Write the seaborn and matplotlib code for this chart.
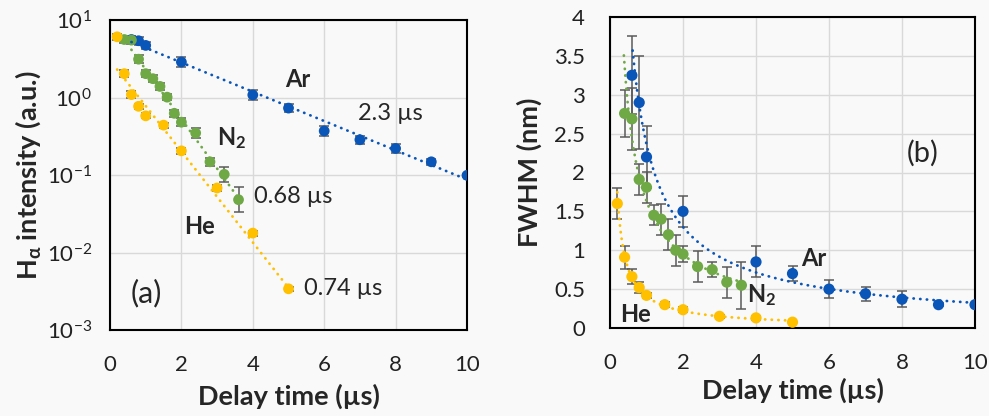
import numpy as np
import pandas as pd
import matplotlib
matplotlib.use("Agg")
import matplotlib.pyplot as plt
import seaborn as sns
from matplotlib.ticker import LogLocator, LogFormatterSciNotation, FuncFormatter, MultipleLocator, NullLocator

# ---- delay times (µs) ----
ar_t = [0.6, 0.8, 1.0, 2.0, 4.0, 5.0, 6.0, 7.0, 8.0, 9.0, 10.0]
n2_t = [0.4, 0.6, 0.8, 1.0, 1.2, 1.4, 1.6, 1.8, 2.0, 2.4, 2.8, 3.2, 3.6]
he_t = [0.2, 0.4, 0.6, 0.8, 1.0, 1.5, 2.0, 3.0, 4.0, 5.0]

# ---- H-alpha intensity (a.u.) and relative uncertainty ----
ar_int = [5.6, 5.4, 4.7, 2.87, 1.08, 0.73, 0.37, 0.285, 0.22, 0.148, 0.099]
n2_int = [5.6, 5.5, 3.12, 2.03, 1.75, 1.39, 1.01, 0.625, 0.48, 0.348, 0.148, 0.102, 0.048]
he_int = [6.07, 2.03, 1.09, 0.77, 0.58, 0.44, 0.205, 0.068, 0.0178, 0.0034]
ar_int_rel = [0.12, 0.12, 0.12, 0.15, 0.15, 0.12, 0.15, 0.12, 0.15, 0.10, 0.05]
n2_int_rel = [0.12, 0.12, 0.12, 0.10, 0.10, 0.10, 0.10, 0.12, 0.12, 0.15, 0.12, 0.25, 0.45]
he_int_rel = [0.10, 0.12, 0.10, 0.08, 0.08, 0.08, 0.10, 0.08, 0.08, 0.06]

# ---- line width FWHM (nm) and absolute uncertainty ----
ar_w = [3.25, 2.9, 2.2, 1.5, 0.85, 0.70, 0.50, 0.44, 0.37, 0.30, 0.30]
n2_w = [2.76, 2.69, 1.91, 1.81, 1.45, 1.40, 1.20, 1.00, 0.95, 0.79, 0.75, 0.59, 0.55]
he_w = [1.6, 0.91, 0.66, 0.52, 0.42, 0.30, 0.235, 0.15, 0.13, 0.075]
ar_w_err = [0.5, 0.6, 0.4, 0.2, 0.2, 0.1, 0.12, 0.09, 0.1, 0.02, 0.02]
n2_w_err = [0.3, 0.4, 0.2, 0.2, 0.13, 0.2, 0.2, 0.2, 0.1, 0.2, 0.1, 0.2, 0.3]
he_w_err = [0.2, 0.15, 0.1, 0.07, 0.03, 0.03, 0.03, 0.02, 0.03, 0.0]

# ---- exponential decay times (µs) ----
tau_ar, tau_n2, tau_he = 2.3, 0.68, 0.74

gases = ["Ar", "N2", "He"]
colors = {"Ar": "#0A55B8", "N2": "#6FA946", "He": "#FFC000"}

frames = []
for g, t, i, ir, w, we in [("Ar", ar_t, ar_int, ar_int_rel, ar_w, ar_w_err),
                           ("N2", n2_t, n2_int, n2_int_rel, n2_w, n2_w_err),
                           ("He", he_t, he_int, he_int_rel, he_w, he_w_err)]:
    frames.append(pd.DataFrame({"gas": g, "t": t, "intensity": i, "rel": ir,
                                "fwhm": w, "fwhm_err": we}))
df = pd.concat(frames, ignore_index=True)

sns.set_theme(style="white")
plt.rcParams["font.family"] = ["Lato", "DejaVu Sans"]
plt.rcParams["mathtext.fontset"] = "custom"
plt.rcParams["mathtext.rm"] = "Lato"
plt.rcParams["mathtext.bf"] = "Lato:bold"
plt.rcParams["mathtext.it"] = "Lato:italic"
plt.rcParams["mathtext.sf"] = "Lato"
plt.rcParams["axes.unicode_minus"] = False

bg = "#F9F9F9"
fig = plt.figure(figsize=(9.89, 4.16), dpi=100, facecolor=bg)
W, H = 989, 416
axA = fig.add_axes([110 / W, 1 - 330 / H, 357 / W, 310 / H], facecolor=bg)
axB = fig.add_axes([610 / W, 1 - 328 / H, 365 / W, 311 / H], facecolor=bg)

grid_kw = dict(color="#D9D9D9", lw=1.0)
dot_kw = dict(lw=2.0, linestyle=(0, (0.1, 2.3)), dash_capstyle="round", zorder=4)
err_kw = dict(fmt="none", ecolor="#5A5A5A", elinewidth=1.1, capsize=3.4, capthick=1.1, zorder=2)
tick_fs = 16
lab_fs = 19.5
ann_fs = 17

# ---------------- panel (a): intensity decay ----------------
fit_a = {"Ar": (tau_ar, 0.6, 0.6, 10.0), "N2": (tau_n2, 0.8, 0.6, 3.7), "He": (tau_he, 0.4, 0.2, 5.0)}
for g in gases:
    d = df[df.gas == g]
    y = d.intensity.values
    lo = y - y / (1 + d.rel.values)
    hi = y * d.rel.values
    axA.errorbar(d.t, y, yerr=[lo, hi], **err_kw)
    tau, tfit, x0, x1 = fit_a[g]
    m = d.t >= tfit
    lnA = np.mean(np.log(d.intensity[m]) + d.t[m] / tau)
    xs = np.linspace(x0, x1, 300)
    axA.plot(xs, np.exp(lnA - xs / tau), color=colors[g], **dot_kw)
sns.scatterplot(data=df, x="t", y="intensity", hue="gas", palette=colors, s=60,
                edgecolor="none", legend=False, ax=axA, zorder=3)

axA.set_yscale("log")
axA.set_xlim(0, 10)
axA.set_ylim(1e-3, 1e1)
axA.xaxis.set_major_locator(MultipleLocator(2))
axA.yaxis.set_major_locator(LogLocator(base=10, numticks=10))
axA.yaxis.set_minor_locator(NullLocator())
axA.yaxis.set_major_formatter(LogFormatterSciNotation())
axA.grid(True, which="major", **grid_kw)
axA.set_axisbelow(True)
axA.tick_params(axis="x", length=0, pad=18, labelsize=tick_fs, colors="#222222")
axA.tick_params(axis="y", length=0, pad=13, labelsize=tick_fs, colors="#222222")
axA.set_xlabel("Delay time (µs)", fontsize=lab_fs, fontweight="bold", va="center")
axA.xaxis.set_label_coords(0.5, -0.213)
axA.set_ylabel(r"$\mathbf{H_{\alpha}}$ intensity (a.u.)", fontsize=lab_fs, fontweight="bold", va="center")
axA.yaxis.set_label_coords(-0.23, 0.5)

axA.text(5.27, 1.71, "Ar", fontsize=ann_fs, fontweight="bold", ha="center", va="center")
axA.text(7.84, 0.62, "2.3 µs", fontsize=ann_fs, ha="center", va="center")
axA.text(3.41, 0.30, r"$\mathbf{N_2}$", fontsize=ann_fs, ha="center", va="center")
axA.text(5.13, 0.053, "0.68 µs", fontsize=ann_fs, ha="center", va="center")
axA.text(2.52, 0.0218, "He", fontsize=ann_fs, fontweight="bold", ha="center", va="center")
axA.text(6.53, 0.0034, "0.74 µs", fontsize=ann_fs, ha="center", va="center")
axA.text(1.03, 0.0030, "(a)", fontsize=22, ha="center", va="center")

# ---------------- panel (b): FWHM ----------------
fit_b = {"Ar": (0.62, 10.0), "N2": (0.38, 3.6), "He": (0.2, 5.0)}
for g in gases:
    d = df[df.gas == g]
    axB.errorbar(d.t, d.fwhm, yerr=d.fwhm_err, **err_kw)
    k, c = np.polyfit(np.log(d.t), np.log(d.fwhm), 1)
    x0, x1 = fit_b[g]
    xs = np.linspace(x0, x1, 300)
    axB.plot(xs, np.exp(c) * xs ** k, color=colors[g], **dot_kw)
sns.scatterplot(data=df, x="t", y="fwhm", hue="gas", palette=colors, s=65,
                edgecolor="none", legend=False, ax=axB, zorder=3)

axB.set_xlim(0, 10)
axB.set_ylim(0, 4)
axB.xaxis.set_major_locator(MultipleLocator(2))
axB.yaxis.set_major_locator(MultipleLocator(0.5))
axB.yaxis.set_major_formatter(FuncFormatter(lambda v, p: f"{v:g}"))
axB.grid(True, which="major", **grid_kw)
axB.set_axisbelow(True)
axB.tick_params(axis="x", length=0, pad=18, labelsize=tick_fs, colors="#222222")
axB.tick_params(axis="y", length=0, pad=18, labelsize=tick_fs, colors="#222222")
axB.set_xlabel("Delay time (µs)", fontsize=lab_fs, fontweight="bold", va="center")
axB.xaxis.set_label_coords(0.5, -0.2)
axB.set_ylabel("FWHM (nm)", fontsize=lab_fs, fontweight="bold", va="center")
axB.yaxis.set_label_coords(-0.222, 0.5)

axB.text(8.58, 2.25, "(b)", fontsize=21, ha="center", va="center")
axB.text(5.57, 0.89, "Ar", fontsize=ann_fs, fontweight="bold", ha="center", va="center")
axB.text(4.16, 0.42, r"$\mathbf{N_2}$", fontsize=ann_fs, ha="center", va="center")
axB.text(0.71, 0.18, "He", fontsize=ann_fs, fontweight="bold", ha="center", va="center")

for ax in (axA, axB):
    for s in ax.spines.values():
        s.set_visible(True)
        s.set_color("black")
        s.set_linewidth(1.5)

fig.savefig("out.png", dpi=100, facecolor=bg)
